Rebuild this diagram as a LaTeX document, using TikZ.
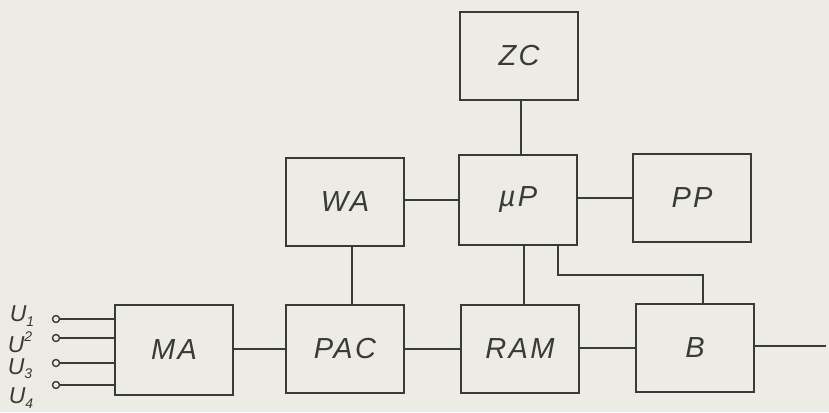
\documentclass[tikz,border=0pt]{standalone}
\usepackage{fontspec}
\setmainfont{Liberation Sans}
\newfontfamily\hand[LetterSpace=8]{Liberation Sans}
\usetikzlibrary{calc}
\definecolor{paper}{HTML}{EDECE4}
\definecolor{ink}{HTML}{3A3A36}
\tikzset{
  blk/.style={draw=ink, line width=2pt, minimum width=118pt, minimum height=88pt,
              inner sep=0pt, text=ink, font=\hand\itshape\fontsize{29}{31}\selectfont},
  wire/.style={draw=ink, line width=2pt},
  term/.style={circle, draw=ink, line width=1.4pt, minimum size=7pt, inner sep=0pt},
  ulab/.style={text=ink, inner sep=0pt, font=\itshape\fontsize{23}{24}\selectfont}
}
\begin{document}
\begin{tikzpicture}[x=1pt,y=-1pt]
\fill[paper] (0,0) rectangle (829,412);
\useasboundingbox (0,0) rectangle (829,412);
% blocks
\node[blk] (zc)  at (519,56) {ZC};
\node[blk] (wa)  at (345,202) {WA};
\node[blk, minimum height=90pt] (mu)  at (518,200) {µP};
\node[blk] (pp)  at (692,198) {PP};
\node[blk, minimum height=90pt] (ma)  at (174,350) {MA};
\node[blk] (pac) at (345,349) {PAC};
\node[blk] (ram) at (520,349) {RAM};
\node[blk] (b)   at (695,348) {B};
% connectors
\coordinate (zm) at ($(zc.south)+(2,0)$);
\draw[wire] (zm) -- (zm |- mu.north);
\draw[wire] (mu.west) -- (mu.west -| wa.east);
\draw[wire] (pp.west -| mu.east) -- (pp.west);
\coordinate (wp) at ($(wa.south)+(7,0)$);
\draw[wire] (wp) -- (wp |- pac.north);
\coordinate (mr) at ($(mu.south)+(6,0)$);
\draw[wire] (mr) -- (mr |- ram.north);
\coordinate (mb) at ($(mu.south)+(40,0)$);
\coordinate (bt) at ($(b.north)+(8,-28)$);
\draw[wire] (mb) |- (bt) -- (bt |- b.north);
\draw[wire] (pac.west -| ma.east) -- (pac.west);
\draw[wire] (pac.east) -- (pac.east -| ram.west);
\draw[wire] (b.west -| ram.east) -- (b.west);
\coordinate (out) at (826,346);
\draw[wire] (b.east |- out) -- (out);
% inputs
\node[term] (t1) at (56,319) {};
\node[term] (t2) at (56,338) {};
\node[term] (t3) at (56,363) {};
\node[term] (t4) at (56,385) {};
\foreach \t in {t1,t2,t3,t4}{\draw[wire] (\t) -- (\t -| ma.west);}
% labels
\node[ulab] (u1) at (22,316) {U\raisebox{-0.35ex}{\fontsize{14}{14}\selectfont 1}};
\node[ulab] (u2) at (20,342) {U\raisebox{0.9ex}{\fontsize{14}{14}\selectfont 2}};
\node[ulab] (u3) at (20,369) {U\raisebox{-0.35ex}{\fontsize{14}{14}\selectfont 3}};
\node[ulab] (u4) at (21,398) {U\raisebox{-0.35ex}{\fontsize{14}{14}\selectfont 4}};
\end{tikzpicture}
\end{document}
